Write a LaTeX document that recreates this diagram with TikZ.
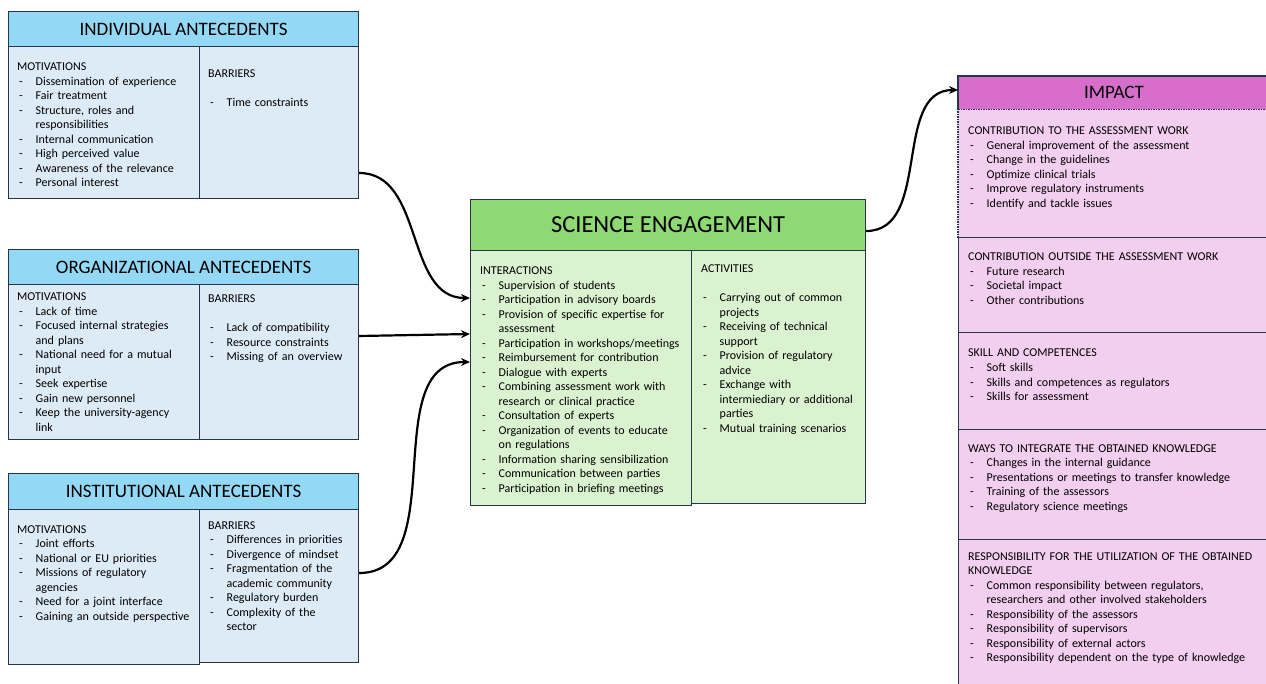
\documentclass[tikz,border=0pt]{standalone}
\usepackage{fontspec}
\setmainfont{Carlito}
\usetikzlibrary{arrows.meta}
\definecolor{hblue}{HTML}{93D8F5}
\definecolor{bblue}{HTML}{DDEBF7}
\definecolor{hgreen}{HTML}{8ED973}
\definecolor{bgreen}{HTML}{DAF2D0}
\definecolor{hmag}{HTML}{D86ECC}
\definecolor{bpink}{HTML}{F2CEEF}
\definecolor{edgec}{HTML}{25364A}
\definecolor{ink}{HTML}{000000}
\newcommand\itm[1]{\makebox[18.5pt][l]{\hspace{2pt}-}#1}
\newcommand\cnt[1]{\hspace*{18.5pt}#1}
\tikzset{
  cell/.style={draw=edgec, line width=1.2pt, inner sep=0pt, anchor=north west},
  hdr/.style={cell, font=\fontsize{19}{22}\selectfont},
  plain/.style={inner sep=0pt, anchor=north west},
  txt/.style={anchor=base west, inner sep=0pt, text width=420pt, align=left, text=ink,
              font=\fontsize{12}{14.5}\selectfont},
  conn/.style={line width=2.2pt, black, -{Stealth[length=9pt,width=8pt]}},
  bord/.style={draw=edgec, line width=1.2pt},
  dbord/.style={draw=edgec, line width=1.2pt, dash pattern=on 1.5pt off 1pt}
}
\begin{document}
\begin{tikzpicture}[x=1pt,y=-1pt]
\useasboundingbox (0,0) rectangle (1266,684);
\clip (0,0) rectangle (1266,684);

% ---------- Individual antecedents
\node[hdr, fill=hblue, minimum width=350pt, minimum height=35pt] (indH) at (8,11) {INDIVIDUAL ANTECEDENTS};
\node[cell, fill=bblue, minimum width=191pt, minimum height=152pt] (indM) at (8,46) {};
\node[cell, fill=bblue, minimum width=159pt, minimum height=152pt] (indB) at (199,46) {};
\node[txt] (indMt) at (17,71) {MOTIVATIONS\\
\itm{Dissemination of experience}\\
\itm{Fair treatment}\\
\itm{Structure, roles and}\\
\cnt{responsibilities}\\
\itm{Internal communication}\\
\itm{High perceived value}\\
\itm{Awareness of the relevance}\\
\itm{Personal interest}};
\node[txt] (indBt) at (208,78) {BARRIERS\\
~\\
\itm{Time constraints}};

% ---------- Organizational antecedents
\node[hdr, fill=hblue, minimum width=350pt, minimum height=35pt] (orgH) at (8,249) {ORGANIZATIONAL ANTECEDENTS};
\node[cell, fill=bblue, minimum width=191pt, minimum height=155pt] (orgM) at (8,284) {};
\node[cell, fill=bblue, minimum width=159pt, minimum height=155pt] (orgB) at (199,284) {};
\node[txt] (orgMt) at (17,301) {MOTIVATIONS\\
\itm{Lack of time}\\
\itm{Focused internal strategies}\\
\cnt{and plans}\\
\itm{National need for a mutual}\\
\cnt{input}\\
\itm{Seek expertise}\\
\itm{Gain new personnel}\\
\itm{Keep the university-agency}\\
\cnt{link}};
\node[txt] (orgBt) at (208,303) {BARRIERS\\
~\\
\itm{Lack of compatibility}\\
\itm{Resource constraints}\\
\itm{Missing of an overview}};

% ---------- Institutional antecedents
\node[hdr, fill=hblue, minimum width=350pt, minimum height=36pt] (insH) at (8,473) {INSTITUTIONAL ANTECEDENTS};
\node[cell, fill=bblue, minimum width=191pt, minimum height=155pt] (insM) at (8,509) {};
\node[cell, fill=bblue, minimum width=159pt, minimum height=153pt] (insB) at (199,509) {};
\node[txt] (insMt) at (17,533) {MOTIVATIONS\\
\itm{Joint efforts}\\
\itm{National or EU priorities}\\
\itm{Missions of regulatory}\\
\cnt{agencies}\\
\itm{Need for a joint interface}\\
\itm{Gaining an outside perspective}};
\node[txt] (insBt) at (208,529) {BARRIERS\\
\itm{Differences in priorities}\\
\itm{Divergence of mindset}\\
\itm{Fragmentation of the}\\
\cnt{academic community}\\
\itm{Regulatory burden}\\
\itm{Complexity of the}\\
\cnt{sector}};

% ---------- Science engagement
\node[cell, fill=hgreen, minimum width=395pt, minimum height=51pt, font=\fontsize{24.5}{28}\selectfont] (seH) at (470,199) {SCIENCE ENGAGEMENT};
\node[cell, fill=bgreen, minimum width=221pt, minimum height=255pt] (seI) at (470,250) {};
\node[cell, fill=bgreen, minimum width=174pt, minimum height=253pt] (seA) at (691,250) {};
\node[txt] (seIt) at (480,275) {INTERACTIONS\\
\itm{Supervision of students}\\
\itm{Participation in advisory boards}\\
\itm{Provision of specific expertise for}\\
\cnt{assessment}\\
\itm{Participation in workshops/meetings}\\
\itm{Reimbursement for contribution}\\
\itm{Dialogue with experts}\\
\itm{Combining assessment work with}\\
\cnt{research or clinical practice}\\
\itm{Consultation of experts}\\
\itm{Organization of events to educate}\\
\cnt{on regulations}\\
\itm{Information sharing sensibilization}\\
\itm{Communication between parties}\\
\itm{Participation in briefing meetings}};
\node[txt] (seAt) at (701,273) {ACTIVITIES\\
~\\
\itm{Carrying out of common}\\
\cnt{projects}\\
\itm{Receiving of technical}\\
\cnt{support}\\
\itm{Provision of regulatory}\\
\cnt{advice}\\
\itm{Exchange with}\\
\cnt{intermiediary or additional}\\
\cnt{parties}\\
\itm{Mutual training scenarios}};

% ---------- Impact
\node[plain, fill=hmag, minimum width=320pt, minimum height=33pt] (impH) at (958,76) {};
\node[font=\fontsize{19}{22}\selectfont, text=ink] (impL) at (1114,92) {IMPACT};
\node[plain, fill=bpink, minimum width=320pt, minimum height=128pt] (imp1) at (958,109) {};
\node[cell, fill=bpink, minimum width=320pt, minimum height=95pt] (imp2) at (958,237) {};
\node[cell, fill=bpink, minimum width=320pt, minimum height=97pt] (imp3) at (958,332) {};
\node[cell, fill=bpink, minimum width=320pt, minimum height=110pt] (imp4) at (958,429) {};
\node[cell, fill=bpink, minimum width=320pt, minimum height=170pt] (imp5) at (958,539) {};
\draw[bord] (impH.south west) -- (impH.north west) -- (impH.north east) -- (impH.south east);
\draw[dbord] (impH.south west) -- (impH.south east);
\draw[dbord] (imp1.north west) -- (imp1.south west) -- (imp1.south east);
\node[txt] (imp1t) at (968,135) {CONTRIBUTION TO THE ASSESSMENT WORK\\
\itm{General improvement of the assessment}\\
\itm{Change in the guidelines}\\
\itm{Optimize clinical trials}\\
\itm{Improve regulatory instruments}\\
\itm{Identify and tackle issues}};
\node[txt] (imp2t) at (968,261) {CONTRIBUTION OUTSIDE THE ASSESSMENT WORK\\
\itm{Future research}\\
\itm{Societal impact}\\
\itm{Other contributions}};
\node[txt] (imp3t) at (968,357) {SKILL AND COMPETENCES\\
\itm{Soft skills}\\
\itm{Skills and competences as regulators}\\
\itm{Skills for assessment}};
\node[txt] (imp4t) at (968,452) {WAYS TO INTEGRATE THE OBTAINED KNOWLEDGE\\
\itm{Changes in the internal guidance}\\
\itm{Presentations or meetings to transfer knowledge}\\
\itm{Training of the assessors}\\
\itm{Regulatory science meetings}};
\node[txt] (imp5t) at (968,560) {RESPONSIBILITY FOR THE UTILIZATION OF THE OBTAINED\\
KNOWLEDGE\\
\itm{Common responsibility between regulators,}\\
\cnt{researchers and other involved stakeholders}\\
\itm{Responsibility of the assessors}\\
\itm{Responsibility of supervisors}\\
\itm{Responsibility of external actors}\\
\itm{Responsibility dependent on the type of knowledge}};

% ---------- Connectors
\draw[conn] (indB.east |- 0,173) to[out=0,in=180] (seI.west |- 0,298);
\draw[conn] (orgB.east |- 0,336) -- (seI.west |- 0,334);
\draw[conn] (insB.east |- 0,573) to[out=0,in=180] (seI.west |- 0,362);
\draw[conn] (seH.east |- 0,231) to[out=0,in=180] (impH.west |- 0,90);
\end{tikzpicture}
\end{document}
